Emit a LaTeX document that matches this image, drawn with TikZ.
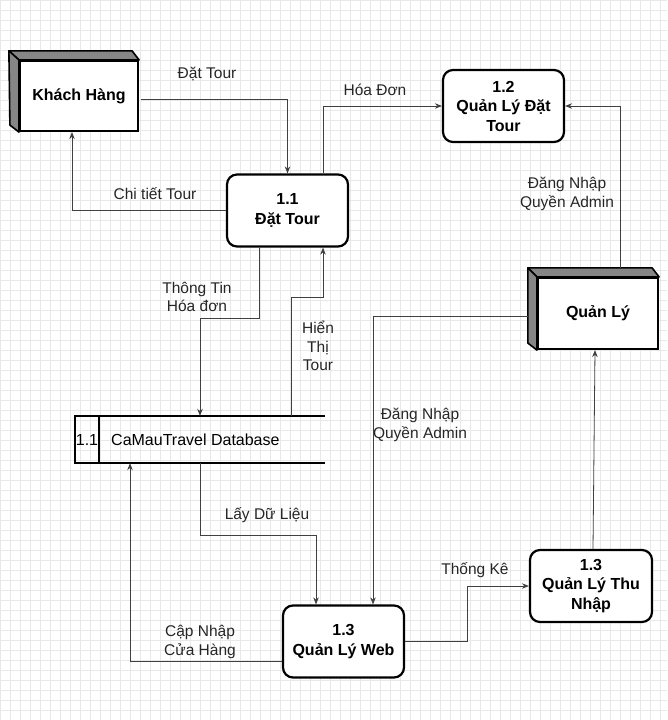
\documentclass[tikz,border=0pt]{standalone}
\usepackage{fontspec}
\setmainfont{Liberation Sans}
\usetikzlibrary{arrows.meta,positioning}

\tikzset{
  entity/.style={draw, line width=2.2pt, fill=white, minimum width=118pt, minimum height=70pt,
    font=\fontsize{16}{19.5}\selectfont\bfseries},
  face/.style={fill=gray!95, draw=black, line width=1.6pt, line join=round},
  process/.style={draw, line width=2.2pt, rounded corners=10pt, fill=white, minimum width=121pt,
    minimum height=72pt, align=center, font=\fontsize{16}{19.5}\selectfont\bfseries},
  flow/.style={draw=black!75, line width=0.8pt, -{Stealth[length=7pt,width=5.5pt]}},
  note/.style={align=center, font=\fontsize{15.5}{18.5}\selectfont, text=black!85, inner sep=0pt}
}

\begin{document}
\begin{tikzpicture}[x=1pt, y=-1pt]
  \useasboundingbox (0,0) rectangle (667,720);
  % background grid
  \fill[white] (0,0) rectangle (667,720);
  \draw[step=10pt, black!9, line width=0.4pt] (0pt,0pt) grid (667pt,-720pt);

  % external entities
  \node[entity] (kh) at (79,96) {Khách Hàng};
  \filldraw[face] ([shift={(-10,-9)}]kh.north west) -- ([shift={(-7,-9)}]kh.north east)
    -- (kh.north east) -- (kh.north west) -- cycle;
  \filldraw[face] ([shift={(-10,-9)}]kh.north west) -- (kh.north west) -- (kh.south west)
    -- ([shift={(-9,-7)}]kh.south west) -- cycle;

  \node[entity, minimum width=120pt, minimum height=71pt] (ql) at (598,313.5) {Quản Lý};
  \filldraw[face] ([shift={(-9,-9)}]ql.north west) -- ([shift={(-7,-9)}]ql.north east)
    -- (ql.north east) -- (ql.north west) -- cycle;
  \filldraw[face] ([shift={(-9,-9)}]ql.north west) -- (ql.north west) -- (ql.south west)
    -- ([shift={(-9,-7)}]ql.south west) -- cycle;

  % processes
  \node[process] (p11) at (287.5,210.5) {1.1\\Đặt Tour};
  \node[process] (p12) at (503.5,106) {1.2\\Quản Lý Đặt\\Tour};
  \node[process] (web) at (343.5,641.5) {1.3\\Quản Lý Web};
  \node[process, minimum width=122pt] (tn) at (591,586) {1.3\\Quản Lý Thu\\Nhập};

  % data store
  \node[minimum width=250pt, minimum height=47pt, inner sep=0pt] (db) at (200,439.5) {};
  \draw[line width=2pt] (db.north east) -- (db.north west) -- (db.south west) -- (db.south east);
  \draw[line width=2pt] ([xshift=24pt]db.north west) -- ([xshift=24pt]db.south west);
  \node[font=\fontsize{16}{18}\selectfont, inner sep=0pt] (dbid) at (87,439.5) {1.1};
  \node[font=\fontsize{16}{18}\selectfont, inner sep=0pt, anchor=west] (dbname) at (111,439.5) {CaMauTravel Database};

  % data flows
  \draw[flow] ([shift={(2,3)}]kh.east) -| (p11.north);
  \draw[flow] (p11.west) -| ([xshift=-7pt]kh.south);
  \draw[flow] ([xshift=35.5pt]p11.north) |- (p12.west);
  \draw[flow] ([shift={(22,-9)}]ql.north) |- (p12.east);
  \draw[flow] ([xshift=-28.5pt]p11.south) -- ++(0,71) -| (db.north);
  \draw[flow] ([xshift=91pt]db.north) -- ++(0,-118) -| ([xshift=35.5pt]p11.south);
  \draw[flow] ([shift={(-9,3)}]ql.west) -| ([xshift=29.5pt]web.north);
  \draw[flow] (db.south) -- ++(0,72) -| ([xshift=-27.5pt]web.north);
  \draw[flow] ([yshift=-20pt]web.west) -| ([xshift=-70pt]db.south);
  \draw[flow] (web.east) -- ++(62,0) |- (tn.west);
  \draw[flow] ([xshift=2pt]tn.north) -- ([xshift=-3pt]ql.south);

  % flow labels
  \node[note] (l1) at (207,74) {Đặt Tour};
  \node[note] (l2) at (155,194) {Chi tiết Tour};
  \node[note] (l3) at (375,90) {Hóa Đơn};
  \node[note] (l4) at (567,194) {Đăng Nhập\\Quyền Admin};
  \node[note] (l5) at (197,297) {Thông Tin\\Hóa đơn};
  \node[note] (l6) at (318,346) {Hiển\\Thị\\Tour};
  \node[note] (l7) at (420,425) {Đăng Nhập\\Quyền Admin};
  \node[note] (l8) at (267,515) {Lấy Dữ Liệu};
  \node[note] (l9) at (200,642) {Cập Nhập\\Cửa Hàng};
  \node[note] (l10) at (475,570) {Thống Kê};
\end{tikzpicture}
\end{document}
